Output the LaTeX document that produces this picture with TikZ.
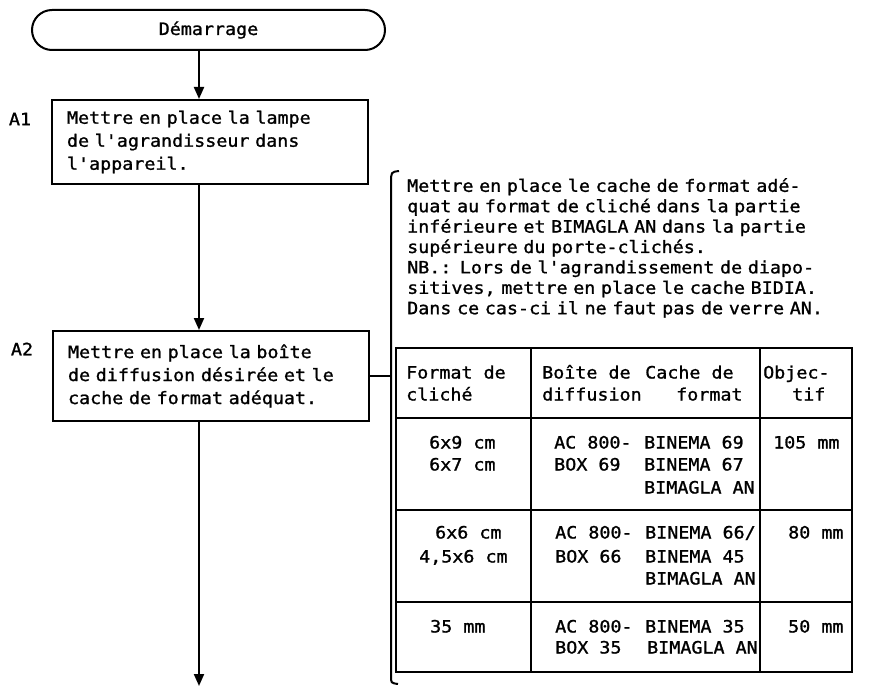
\documentclass[tikz,border=0pt]{standalone}
\usepackage{fontspec}
\usetikzlibrary{arrows.meta}
\newfontfamily\plotfont[FakeStretch=1.08,FakeBold=1.2]{DejaVu Sans Mono}
\newcommand\tcell[4]{\node[cellt] (#1) at (#2,{#3+5.5}) {#4};}
\begin{document}
\begin{tikzpicture}[x=1pt,y=-1pt,
  tx/.style={font=\plotfont\fontsize{17}{23}\selectfont},
  stepbox/.style={draw,line width=2pt,tx,align=left,inner xsep=15pt,inner ysep=0pt},
  cellt/.style={tx,anchor=base west,inner sep=0pt},
  conn/.style={line width=2pt},
  arr/.style={conn,-{Triangle[length=12pt,width=10pt]}},
  tbl/.style={line width=2pt}]
\useasboundingbox (0,0) rectangle (875,687);
% start
\node[draw,line width=2pt,rounded corners=20pt,minimum width=353pt,minimum height=40pt,inner sep=0pt,tx] (start) at (208.5,30) {Démarrage};
% boxes
\node[stepbox,minimum width=316pt,minimum height=84pt,text width=286pt] (A1) at (210,142)
 {Mettre en place la lampe\\de l'agrandisseur dans\\l'appareil.};
\node[stepbox,minimum width=316pt,minimum height=90pt,text width=286pt] (A2) at (211,376)
 {Mettre en place la boîte\\de diffusion désirée et le\\cache de format adéquat.};
\node[tx,inner sep=0pt] (lA1) at (20,119) {A1};
\node[tx,inner sep=0pt] (lA2) at (22,349) {A2};
% connectors
\coordinate (ax) at (199,0);
\coordinate (endp) at (199,686);
\coordinate (brk) at (391,0);
\draw[arr] (ax |- start.south) -- (ax |- A1.north);
\draw[arr] (ax |- A1.south) -- (ax |- A2.north);
\draw[arr] (ax |- A2.south) -- (endp);
\draw[conn] (A2.east) -- (A2.east -| brk);
% bracket
\draw[conn] (399,171) .. controls (391,172) .. (391,183) -- (391,676) .. controls (391,683) .. (398,684);
% paragraph
\node[tx,font=\plotfont\fontsize{17}{20.4}\selectfont,anchor=north west,inner sep=0pt,text width=470pt,align=left] (note) at (407,178)
 {Mettre en place le cache de format adé-\\quat au format de cliché dans la partie\\inférieure et BIMAGLA AN dans la partie\\supérieure du porte-clichés.\\NB.: Lors de l'agrandissement de diapo-\\sitives, mettre en place le cache BIDIA.\\Dans ce cas-ci il ne faut pas de verre AN.};
% table
\draw[tbl] (396,348) rectangle (852,672);
\draw[tbl] (396,418) -- (852,418) (396,510) -- (852,510) (396,602) -- (852,602);
\draw[tbl] (531,348) -- (531,672) (760,348) -- (760,672);
% header
\tcell{h1a}{406}{373}{Format de}
\tcell{h1b}{406}{395}{cliché}
\tcell{h2a}{542}{373}{Boîte de}
\tcell{h2b}{542}{395}{diffusion}
\tcell{h3a}{645}{373}{Cache de}
\tcell{h3b}{676}{395}{format}
\tcell{h4a}{763}{373}{Objec-}
\tcell{h4b}{792}{395}{tif}
% row 1
\tcell{r1a}{429}{443}{6x9 cm}
\tcell{r1b}{429}{465}{6x7 cm}
\tcell{r1c}{554}{443}{AC 800-}
\tcell{r1d}{554}{465}{BOX 69}
\tcell{r1e}{644}{443}{BINEMA 69}
\tcell{r1f}{644}{465}{BINEMA 67}
\tcell{r1g}{644}{488}{BIMAGLA AN}
\tcell{r1h}{773}{443}{105 mm}
% row 2
\tcell{r2a}{435}{533}{6x6 cm}
\tcell{r2b}{419}{557}{4,5x6 cm}
\tcell{r2c}{555}{533}{AC 800-}
\tcell{r2d}{555}{557}{BOX 66}
\tcell{r2e}{645}{533}{BINEMA 66/}
\tcell{r2f}{645}{557}{BINEMA 45}
\tcell{r2g}{645}{579}{BIMAGLA AN}
\tcell{r2h}{788}{533}{80 mm}
% row 3
\tcell{r3a}{430}{627}{35 mm}
\tcell{r3c}{555}{627}{AC 800-}
\tcell{r3d}{555}{648}{BOX 35}
\tcell{r3e}{645}{627}{BINEMA 35}
\tcell{r3g}{647}{648}{BIMAGLA AN}
\tcell{r3h}{788}{627}{50 mm}
\end{tikzpicture}
\end{document}
